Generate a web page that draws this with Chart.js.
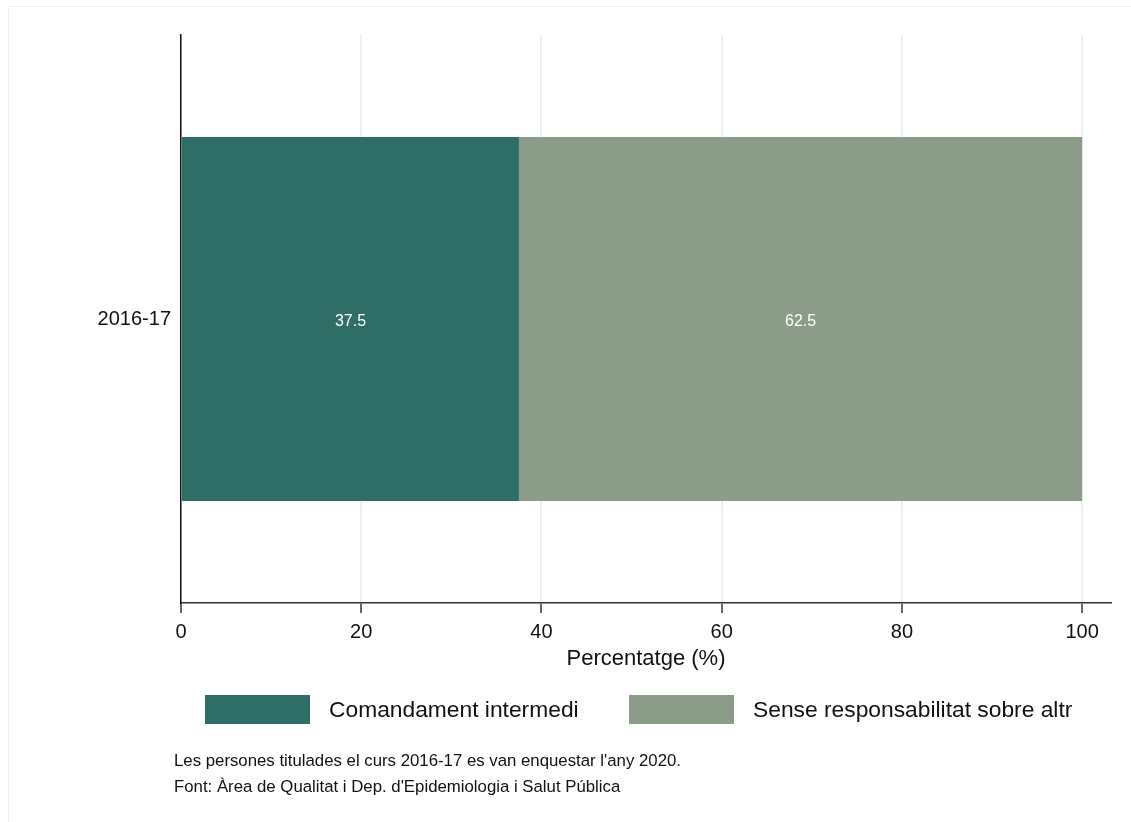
<!DOCTYPE html>
<html lang="ca">
<head>
    <meta charset="UTF-8">
    <title>Comandament intermedi - 2016-17</title>
    <script src="https://cdn.jsdelivr.net/npm/chart.js"></script>
    <style>
        body { margin: 0; background: #fff; font-family: "Liberation Sans", Arial, sans-serif; }
        #wrap { position: relative; width: 1131px; height: 822px; overflow: hidden; }
        #frame { position: absolute; left: 8px; top: 6px; width: 1200px; height: 900px;
                 border-left: 1px solid #eef3f3; border-top: 1px solid #eef3f3; }
        canvas { position: absolute; left: 0; top: 0; }
        #legend { position: absolute; top: 694px; left: 0; width: 1131px; height: 30px; }
        .item { position: absolute; top: 0; display: flex; align-items: center; height: 30px; }
        .box { width: 105px; height: 29px; margin-right: 19px; }
        .item span { font-size: 22.8px; color: #111; }
        .note { position: absolute; left: 174px; font-size: 16.8px; line-height: 19px; color: #111; }
    </style>
</head>
<body>
<div id="wrap">
    <div id="frame"></div>
    <canvas id="myChart" width="1131" height="822"></canvas>
    <div id="legend"></div>
    <div class="note" style="top: 751px;">Les persones titulades el curs 2016-17 es van enquestar l'any 2020.</div>
    <div class="note" style="top: 777px;">Font: Àrea de Qualitat i Dep. d'Epidemiologia i Salut Pública</div>
</div>
<script>
    const categories = ['2016-17'];
    const comandament = [37.5];
    const senseResp = [62.5];
    const seriesLabels = ['Comandament intermedi', 'Sense responsabilitat sobre altr'];
    const seriesColors = ['#2e6e66', '#8b9d88'];
    const xTicks = [0, 20, 40, 60, 80, 100];

    // white value labels in the middle of each segment
    const segmentLabels = {
        id: 'segmentLabels',
        afterDatasetsDraw(chart) {
            const ctx = chart.ctx;
            ctx.save();
            ctx.fillStyle = '#ffffff';
            ctx.font = '16px "Liberation Sans", Arial, sans-serif';
            ctx.textAlign = 'center';
            ctx.textBaseline = 'middle';
            chart.data.datasets.forEach((ds, i) => {
                chart.getDatasetMeta(i).data.forEach((bar, j) => {
                    const cx = (bar.x + bar.base) / 2;
                    ctx.fillText(ds.data[j].toFixed(1), cx, bar.y + 3);
                });
            });
            ctx.restore();
        }
    };

    const ctx = document.getElementById('myChart').getContext('2d');
    const myChart = new Chart(ctx, {
        type: 'bar',
        data: {
            labels: categories,
            datasets: [
                { label: seriesLabels[0], data: comandament, backgroundColor: seriesColors[0] },
                { label: seriesLabels[1], data: senseResp, backgroundColor: seriesColors[1] }
            ]
        },
        options: {
            indexAxis: 'y',
            responsive: false,
            animation: false,
            barPercentage: 0.641,
            categoryPercentage: 1,
            layout: { padding: { top: 35, right: 20, bottom: 142, left: 0 } },
            plugins: {
                legend: { display: false },
                tooltip: { enabled: false }
            },
            scales: {
                x: {
                    stacked: true,
                    min: 0,
                    max: 103.2,
                    afterBuildTicks: (scale) => { scale.ticks = xTicks.map(v => ({ value: v })); },
                    afterFit: (scale) => { scale.height = 77; },
                    grid: { color: '#eaf1f3', lineWidth: 2, tickColor: '#333', tickLength: 10, tickWidth: 1.5 },
                    border: { display: true, color: '#333', width: 1.5 },
                    ticks: { color: '#111', font: { size: 20, family: '"Liberation Sans", Arial' }, padding: 7, maxRotation: 0 },
                    title: {
                        display: true,
                        text: 'Percentatge (%)',
                        color: '#111',
                        font: { size: 22, family: '"Liberation Sans", Arial' },
                        padding: { top: 0, bottom: 8 }
                    }
                },
                y: {
                    stacked: true,
                    afterFit: (scale) => { scale.width = 181; },
                    grid: { display: true, color: 'rgba(0,0,0,0)', drawTicks: false },
                    border: { display: true, color: '#111', width: 1.5 },
                    ticks: { color: '#111', font: { size: 20, family: '"Liberation Sans", Arial' }, padding: 10 }
                }
            }
        },
        plugins: [segmentLabels]
    });

    // legend built from the chart datasets
    const legendEl = document.getElementById('legend');
    const legendLeft = [205, 629];
    myChart.data.datasets.forEach((ds, i) => {
        const item = document.createElement('div');
        item.className = 'item';
        item.style.left = legendLeft[i] + 'px';
        const box = document.createElement('div');
        box.className = 'box';
        box.style.background = ds.backgroundColor;
        const txt = document.createElement('span');
        txt.textContent = ds.label;
        item.appendChild(box);
        item.appendChild(txt);
        legendEl.appendChild(item);
    });
</script>
</body>
</html>
